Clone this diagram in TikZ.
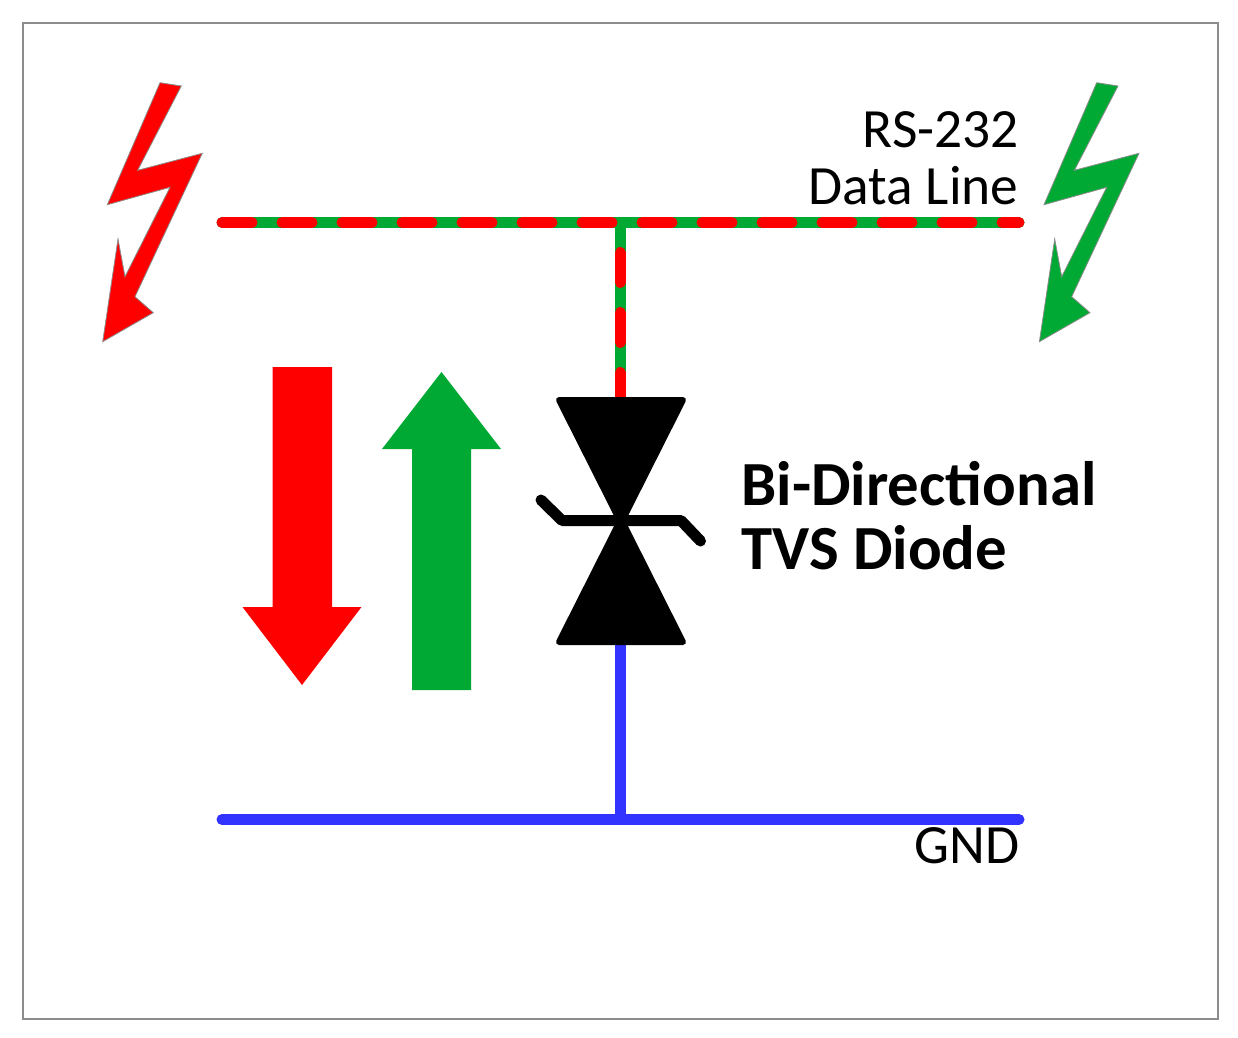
\documentclass[tikz,border=0pt]{standalone}
\usepackage{fontspec}
\setmainfont{Carlito}
\usepackage{xcolor}
\definecolor{surgered}{HTML}{FF0000}
\definecolor{surgegreen}{HTML}{00A933}
\definecolor{gndblue}{HTML}{3333FF}
\definecolor{edgegray}{HTML}{8C8C8C}
\tikzset{
	bolt/.style={draw=edgegray, line width=0.4pt, fill=#1},
	flowarrow/.style={fill=#1},
	wire/.style={line width=5.5pt, line cap=round, color=#1},
	tvsbody/.style={fill=black, draw=black, line width=3pt, line join=round},
	label/.style={inner sep=0pt, font=\fontsize{27.7}{30}\selectfont},
	boldlabel/.style={inner sep=0pt, font=\fontsize{31.4}{34}\selectfont\bfseries}
}
\begin{document}
\begin{tikzpicture}[x=0.5pt,y=-0.5pt]
	\useasboundingbox (0,0) rectangle (1238,1038);
	\draw[edgegray, line width=1pt] (23,23.5) rectangle (1218,1018.5);

	\coordinate (dataL) at (222,222.5);
	\coordinate (dataR) at (1019,222.5);
	\coordinate (dataT) at (620.3,222.5);
	\coordinate (tvsT) at (620.3,397);
	\coordinate (tvsB) at (620.3,645);
	\coordinate (gndL) at (222,819.5);
	\coordinate (gndR) at (1019,819.5);
	\coordinate (gndT) at (620.3,819.5);

	% data line
	\draw[wire=surgegreen] (dataL) -- (dataR);
	\draw[wire=surgegreen, line cap=butt] (dataT) -- (tvsT);
	\draw[wire=surgered, dash pattern=on 15pt off 15pt] (dataL) -- (dataR);
	\draw[wire=surgered, dash pattern=on 15pt off 15pt, dash phase=15pt] (dataT) -- (tvsT);

	% ground
	\draw[wire=gndblue] (gndL) -- (gndR);
	\draw[wire=gndblue, line cap=butt] (tvsB) -- (gndT);

	% diode
	\draw[tvsbody] (559,400) -- (683,400) -- (621,523) -- cycle;
	\draw[tvsbody] (559,642) -- (683,642) -- (621,519) -- cycle;
	\draw[black, line width=5.5pt, line cap=round, line join=round] (541,500) -- (562,520.5) -- (681,520.5) -- (700.5,541);

	% arrows
	\fill[flowarrow=surgered] (272.5,367) -- (332,367) -- (332,607) -- (361.5,607) -- (302,685) -- (242.5,607) -- (272.5,607) -- cycle;
	\fill[flowarrow=surgegreen] (412,690) -- (471,690) -- (471,449) -- (501,449) -- (441.5,372) -- (382,449) -- (412,449) -- cycle;

	% lightning
	\draw[bolt=surgered] (160,82.7) -- (181.3,86) -- (137.7,170.3) -- (202.3,153.3) -- (135,296.7) -- (153.3,312.7) -- (102.7,341.7) -- (118,239) -- (125,276.7) -- (170,187.3) -- (107.3,204.7) -- cycle;
	\begin{scope}[xshift=468.35pt]
		\draw[bolt=surgegreen] (160,82.7) -- (181.3,86) -- (137.7,170.3) -- (202.3,153.3) -- (135,296.7) -- (153.3,312.7) -- (102.7,341.7) -- (118,239) -- (125,276.7) -- (170,187.3) -- (107.3,204.7) -- cycle;
	\end{scope}

	% labels
	\node[label, anchor=base east] (rs) at (1019,148) {RS-232};
	\node[label, anchor=base east] (data) at (1019,205) {Data Line};
	\node[label, anchor=base east] (gnd) at (1019.5,863.5) {GND};
	\node[boldlabel, anchor=base west] (bi) at (741,505) {Bi-Directional};
	\node[boldlabel, anchor=base west] (tvs) at (741,569) {TVS Diode};
\end{tikzpicture}
\end{document}
